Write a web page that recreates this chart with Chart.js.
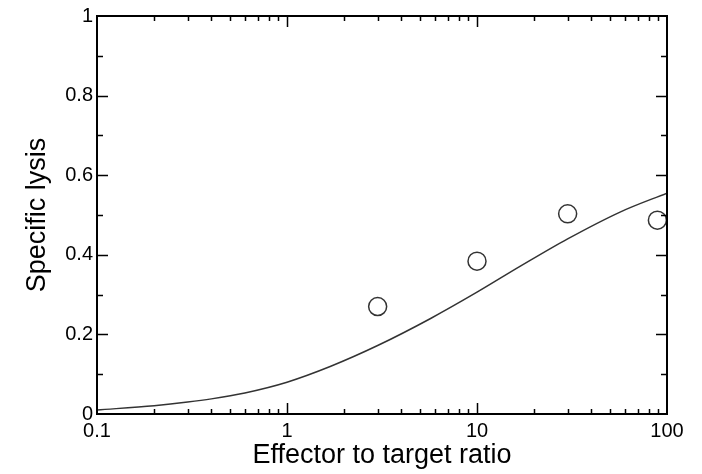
<!DOCTYPE html>
<html>
<head>
<meta charset="utf-8">
<script src="https://cdn.jsdelivr.net/npm/chart.js@4/dist/chart.umd.min.js"></script>
<style>
  html, body { margin: 0; padding: 0; background: #fff; }
  #wrap { width: 702px; height: 474px; }
</style>
</head>
<body>
<div id="wrap"><canvas id="c" width="702" height="474"></canvas></div>
<script>
// measured points (effector:target ratio vs specific lysis)
const dataRatio = [3, 10, 30, 89];
const dataLysis = [0.27, 0.384, 0.503, 0.487];

// model curve
const fitRatio = [0.1, 0.2, 0.3, 0.4, 0.6, 1, 1.7, 3, 5.7, 10, 17, 30, 57, 100];
const fitLysis = [0.010, 0.021, 0.030, 0.038, 0.053, 0.080, 0.120, 0.172, 0.240, 0.306, 0.372, 0.440, 0.508, 0.555];

// tick labels
const xTicks = [0.1, 1, 10, 100];
const yTicks = [0, 0.2, 0.4, 0.6, 0.8, 1];

// draws the box and inward ticks on all four sides
const frameTicks = {
  id: 'frameTicks',
  afterDatasetsDraw(chart) {
    const { ctx, chartArea: a, scales: { x, y } } = chart;
    ctx.save();
    ctx.strokeStyle = '#000';
    ctx.lineWidth = 1.5;
    ctx.beginPath();
    // x ticks, majors and minors
    for (let d = -1; d < 2; d++) {
      for (let k = 1; k <= 9; k++) {
        if (k === 1 && d === -1) continue;
        const v = k * Math.pow(10, d);
        const px = Math.round(x.getPixelForValue(v)) + 0.5;
        const len = k === 1 ? 11 : 5;
        ctx.moveTo(px, a.bottom); ctx.lineTo(px, a.bottom - len);
        ctx.moveTo(px, a.top); ctx.lineTo(px, a.top + len);
      }
    }
    // y ticks every 0.1, major every 0.2
    for (let i = 1; i < 10; i++) {
      const py = Math.round(y.getPixelForValue(i / 10)) + 0.5;
      const len = i % 2 === 0 ? 11 : 6;
      ctx.moveTo(a.left, py); ctx.lineTo(a.left + len, py);
      ctx.moveTo(a.right, py); ctx.lineTo(a.right - len, py);
    }
    ctx.stroke();
    ctx.lineWidth = 2;
    ctx.strokeRect(a.left, a.top, a.right - a.left, a.bottom - a.top);
    ctx.restore();
  }
};

const ctx = document.getElementById('c').getContext('2d');
new Chart(ctx, {
  type: 'scatter',
  data: {
    datasets: [
      {
        label: 'fit',
        data: fitRatio.map((r, i) => ({ x: r, y: fitLysis[i] })),
        showLine: true,
        borderColor: '#333',
        borderWidth: 1.5,
        pointRadius: 0,
        cubicInterpolationMode: 'monotone',
        fill: false
      },
      {
        label: 'data',
        data: dataRatio.map((r, i) => ({ x: r, y: dataLysis[i] })),
        pointRadius: 9,
        pointBorderWidth: 1.5,
        pointBorderColor: '#333',
        pointBackgroundColor: 'rgba(255,255,255,0)',
        clip: false
      }
    ]
  },
  options: {
    responsive: false,
    animation: false,
    layout: { padding: { left: 0, top: 15, right: 35, bottom: 0 } },
    plugins: { legend: { display: false }, tooltip: { enabled: false } },
    scales: {
      x: {
        type: 'logarithmic',
        min: 0.1,
        max: 100,
        afterBuildTicks: s => { s.ticks = xTicks.map(v => ({ value: v })); },
        afterFit: s => { s.height = 60; },
        grid: { display: false, drawTicks: false },
        border: { display: false },
        ticks: {
          color: '#000',
          font: { family: 'Liberation Sans, Arial, sans-serif', size: 20 },
          padding: 5,
          maxRotation: 0,
          autoSkip: false,
          callback: v => String(v)
        },
        title: {
          display: true,
          text: 'Effector to target ratio',
          color: '#000',
          font: { family: 'Liberation Sans, Arial, sans-serif', size: 27 },
          padding: { top: 0, bottom: 2 }
        }
      },
      y: {
        min: 0,
        max: 1,
        afterBuildTicks: s => { s.ticks = yTicks.map(v => ({ value: v })); },
        afterFit: s => { s.width = 97; },
        grid: { display: false, drawTicks: false },
        border: { display: false },
        ticks: {
          color: '#000',
          font: { family: 'Liberation Sans, Arial, sans-serif', size: 20 },
          padding: 4,
          callback: v => String(Math.round(v * 10) / 10)
        },
        title: {
          display: true,
          text: 'Specific lysis',
          color: '#000',
          font: { family: 'Liberation Sans, Arial, sans-serif', size: 27 },
          padding: { top: 21, bottom: 0 }
        }
      }
    }
  },
  plugins: [frameTicks]
});
</script>
</body>
</html>
